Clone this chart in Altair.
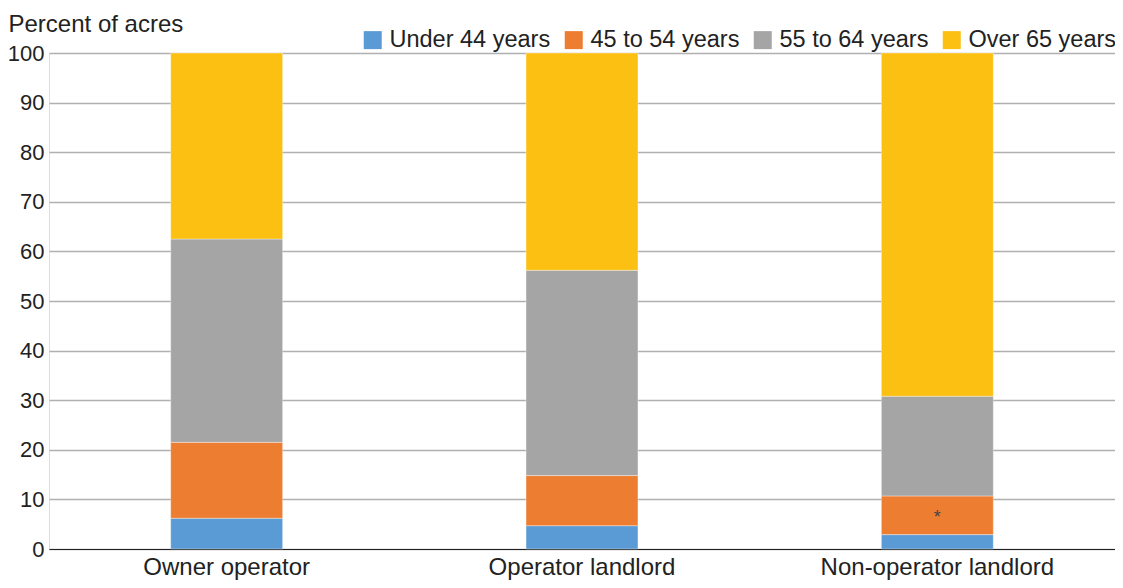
import altair as alt
import pandas as pd

categories = ["Owner operator", "Operator landlord", "Non-operator landlord"]
age_groups = ["Under 44 years", "45 to 54 years", "55 to 64 years", "Over 65 years"]
under_44 = [6.2, 4.7, 2.9]
from_45_to_54 = [15.3, 10.1, 7.8]
from_55_to_64 = [41.0, 41.4, 20.1]
over_65 = [37.5, 43.8, 69.2]
colors = ["#5B9BD5", "#ED7D31", "#A5A5A5", "#FBC012"]

series = [under_44, from_45_to_54, from_55_to_64, over_65]
rows = []
for gi, (g, vals) in enumerate(zip(age_groups, series)):
    for c, v in zip(categories, vals):
        rows.append({"category": c, "age": g, "order": gi, "value": v})
df = pd.DataFrame(rows)

note_df = pd.DataFrame({"category": ["Non-operator landlord"], "y": [6.2], "label": ["*"]})

FONT = "Liberation Sans"

x_enc = alt.X("category:N", sort=categories,
              scale=alt.Scale(paddingInner=0.685, paddingOuter=0.3425),
              axis=alt.Axis(title=None, labelAngle=0, labelFontSize=24, labelFont=FONT,
                            labelColor="#222222", ticks=False, labelPadding=6,
                            labelLimit=0,
                            domainColor="#222222", domainWidth=1.2, grid=False))

bars = alt.Chart(df).mark_bar(stroke="#ffffff", strokeWidth=0.6, strokeOpacity=0.6).encode(
    x=x_enc,
    y=alt.Y("value:Q", stack="zero",
            scale=alt.Scale(domain=[0, 100], nice=False),
            axis=alt.Axis(title="Percent of acres", titleAngle=0, titleAlign="left",
                          titleBaseline="alphabetic", titleX=-41, titleY=-22,
                          titleFontSize=24, titleFontWeight="normal", titleFont=FONT,
                          titleColor="#222222",
                          values=list(range(0, 101, 10)), labelFontSize=22, labelFont=FONT,
                          labelColor="#222222", ticks=False, labelPadding=5, domain=False,
                          gridColor="#b0b0b0", gridWidth=1.3)),
    color=alt.Color("age:N", sort=age_groups,
                    scale=alt.Scale(domain=age_groups, range=colors),
                    legend=alt.Legend(title=None, orient="none", direction="horizontal",
                                      columns=4, legendX=312, legendY=-25,
                                      symbolType="square", symbolSize=324,
                                      symbolStrokeWidth=0, labelFontSize=23.5,
                                      labelFont=FONT, labelColor="#222222",
                                      labelLimit=0, labelOffset=5, columnPadding=11)),
    order=alt.Order("order:Q", sort="ascending"),
)

note = alt.Chart(note_df).mark_text(fontSize=18, color="#444444", font=FONT,
                                    baseline="middle").encode(
    x=alt.X("category:N", sort=categories),
    y=alt.Y("y:Q"),
    text="label:N",
)

chart = alt.layer(bars, note).properties(
    width=1066, height=496,
    autosize=alt.AutoSizeParams(type="none"),
    padding={"left": 41, "top": 45, "right": 0, "bottom": 31},
).configure_view(stroke=None).configure(background="#ffffff")

chart.save("out.html", embed_options={"renderer": "svg", "actions": False})
